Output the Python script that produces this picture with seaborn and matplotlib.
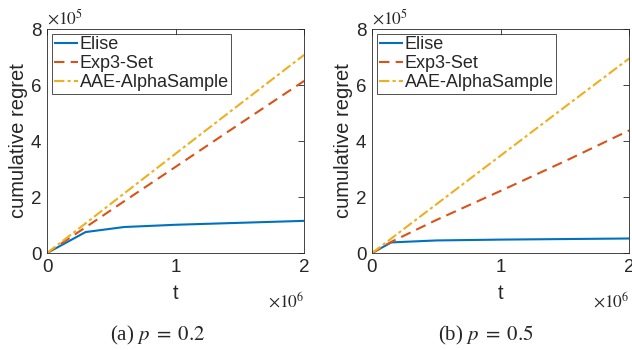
import numpy as np
import pandas as pd
import matplotlib
matplotlib.use("Agg")
import matplotlib.pyplot as plt
import seaborn as sns

# values (t in 1e6 steps, regret in 1e5 units)
methods = ["Elise", "Exp3-Set", "AAE-AlphaSample"]
colors = ["#0072BD", "#D95319", "#EDB120"]
dashes = [(1, 0), (5, 3), (5, 1.5, 1.5, 1.5)]

t_a = [0.0, 0.3, 0.6, 1.0, 1.5, 2.0]
elise_a = [0.0, 0.75, 0.93, 1.01, 1.08, 1.15]
exp3_a = [0.0, 0.92, 1.85, 3.08, 4.62, 6.15]
aae_a = [0.0, 1.06, 2.13, 3.55, 5.32, 7.08]

t_b = [0.0, 0.15, 0.5, 1.0, 1.5, 2.0]
elise_b = [0.0, 0.38, 0.45, 0.48, 0.50, 0.52]
exp3_b = [0.0, 0.40, 1.18, 2.22, 3.28, 4.38]
aae_b = [0.0, 0.52, 1.74, 3.48, 5.22, 6.95]

panels = [
    (t_a, [elise_a, exp3_a, aae_a], r"(a) $p\;=\;0.2$", 158),
    (t_b, [elise_b, exp3_b, aae_b], r"(b) $p\;=\;0.5$", 486),
]

sns.set_style("white")
plt.rcParams["font.family"] = ["Liberation Sans", "DejaVu Sans"]
plt.rcParams["mathtext.fontset"] = "stix"

fig = plt.figure(figsize=(6.32, 3.5), dpi=100)
lefts = [0.0744, 0.5886]

for (t, series, caption, cx), left in zip(panels, lefts):
    ax = fig.add_axes([left, 0.277, 0.407, 0.64])
    rows = []
    for name, vals in zip(methods, series):
        for x, y in zip(t, vals):
            rows.append({"t": x, "regret": y, "method": name})
    df = pd.DataFrame(rows)
    sns.lineplot(data=df, x="t", y="regret", hue="method", style="method",
                 palette=colors, dashes=dashes, linewidth=1.5, ax=ax)
    ax.set_xlim(0, 2)
    ax.set_ylim(0, 8)
    ax.set_xticks([0, 1, 2])
    ax.set_yticks([0, 2, 4, 6, 8])
    ax.tick_params(direction="in", top=True, right=True, labelsize=13.5,
                   length=4, width=0.6, pad=4)
    for s in ax.spines.values():
        s.set_color("#262626")
        s.set_linewidth(0.6)
    ax.set_xlabel("t", fontsize=14.5, labelpad=6)
    ax.set_ylabel("cumulative regret", fontsize=14.5, labelpad=2)
    ax.text(0.0, 1.005, r"$\times10^5$", transform=ax.transAxes, fontsize=12.5,
            family="DejaVu Sans", ha="left", va="bottom")
    ax.text(1.0, -0.165, r"$\times10^6$", transform=ax.transAxes, fontsize=12.5,
            ha="right", va="top")
    leg = ax.legend(loc="upper left", fontsize=13, frameon=True, fancybox=False,
                    handlelength=1.3, handletextpad=0.1, borderpad=0.15,
                    labelspacing=0.1, borderaxespad=0.25)
    leg.get_frame().set_edgecolor("black")
    leg.get_frame().set_linewidth(0.6)
    fig.text(cx / 632, 1 - 335 / 350, caption, ha="center", va="center",
             fontsize=15, family="Liberation Serif")

fig.savefig("out.png", dpi=100)
